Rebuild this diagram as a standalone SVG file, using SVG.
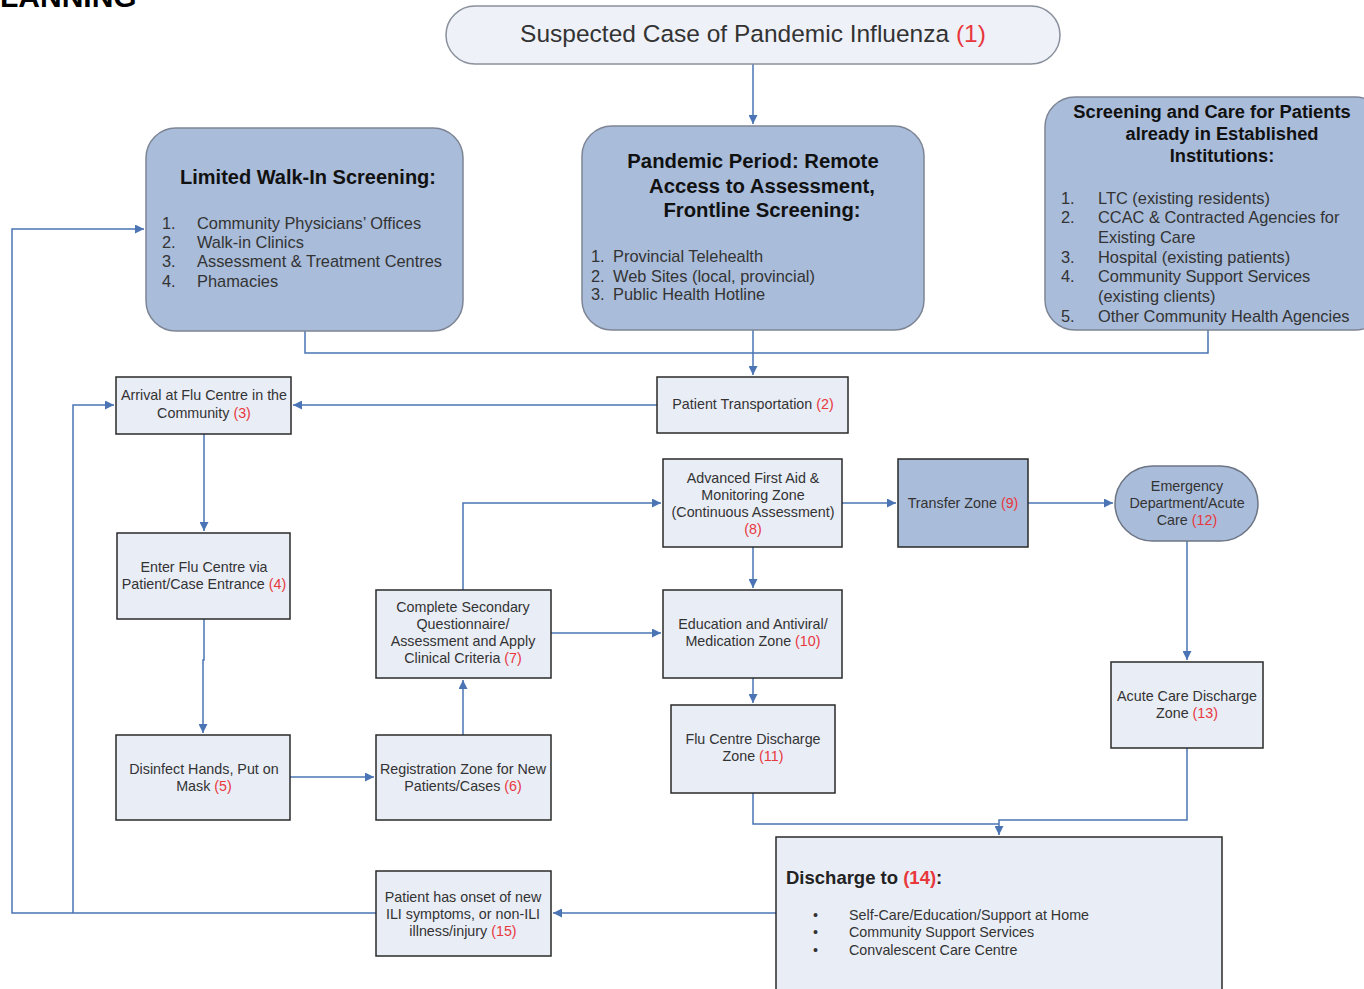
<svg xmlns="http://www.w3.org/2000/svg" width="1364" height="989" viewBox="0 0 1364 989">
<defs>
<marker id="ah" viewBox="0 0 10 10" refX="10" refY="5" markerWidth="10" markerHeight="9" markerUnits="userSpaceOnUse" orient="auto">
<path d="M0,0 L10,5 L0,10 z" fill="#4a74b4"/>
</marker>
<style>
text{font-family:"Liberation Sans",Arial,sans-serif;fill:#222}
.big{fill:#a9bcda;stroke:#7d8594;stroke-width:1.5}
.sm{fill:#e9edf6;stroke:#2a2a2a;stroke-width:1.5}
.dk{fill:#a9bcda;stroke:#2a2a2a;stroke-width:1.5}
.t{font-size:14.3px;text-anchor:middle;fill:#333}
.h{font-size:20px;font-weight:bold;text-anchor:middle;fill:#111}
.l{font-size:16.4px;fill:#333}
.b{font-size:14.3px;fill:#333}
.r{fill:#e8383c}
.c{fill:none;stroke:#4a74b4;stroke-width:1.5}
.ca{fill:none;stroke:#4a74b4;stroke-width:1.5;marker-end:url(#ah)}
</style>
</defs>
<rect width="1364" height="989" fill="#ffffff"/>
<text x="0" y="7" style="font-size:30px;font-weight:900;fill:#000">LANNING</text>

<g id="connectors">
<path class="ca" d="M753,64 V124"/>
<path class="c" d="M305,331 V353 H1208 V330"/>
<path class="ca" d="M753,330 V375"/>
<path class="ca" d="M657,405 H293"/>
<path class="ca" d="M204,434 V531"/>
<path class="ca" d="M204,619 V660 H203 V733"/>
<path class="ca" d="M290,777 H374"/>
<path class="ca" d="M463,735 V680"/>
<path class="ca" d="M463,590 V503 H661"/>
<path class="ca" d="M551,633 H661"/>
<path class="ca" d="M753,547 V588"/>
<path class="ca" d="M842,503 H896"/>
<path class="ca" d="M1028,503 H1113"/>
<path class="ca" d="M1187,541 V660"/>
<path class="ca" d="M753,678 V703"/>
<path class="c" d="M753,793 V824 H999"/>
<path class="ca" d="M1187,748 V820 H999 V835"/>
<path class="ca" d="M776,913 H553"/>
<path class="ca" d="M376,913 H12 V229 H144"/>
<path class="ca" d="M73,913 V405 H114"/>
</g>

<g id="n1">
<rect x="446" y="6" width="614" height="58" rx="29" fill="#eef1f8" stroke="#8a909c" stroke-width="1.5"/>
<text x="753" y="42" style="font-size:24.5px;text-anchor:middle;fill:#333">Suspected Case of Pandemic Influenza <tspan class="r">(1)</tspan></text>
</g>

<g id="walkin">
<rect class="big" x="146" y="128" width="317" height="203" rx="30"/>
<text class="h" x="308" y="184">Limited Walk-In Screening:</text>
<text class="l" x="162" y="229">1.</text><text class="l" x="197" y="229">Community Physicians’ Offices</text>
<text class="l" x="162" y="248">2.</text><text class="l" x="197" y="248">Walk-in Clinics</text>
<text class="l" x="162" y="267">3.</text><text class="l" x="197" y="267">Assessment &amp; Treatment Centres</text>
<text class="l" x="162" y="287">4.</text><text class="l" x="197" y="287">Phamacies</text>
</g>

<g id="pandemic">
<rect class="big" x="582" y="126" width="342" height="204" rx="30"/>
<text class="h" x="753" y="168" style="font-size:20.3px">Pandemic Period: Remote</text>
<text class="h" x="762" y="193" style="font-size:20.3px">Access to Assessment,</text>
<text class="h" x="762" y="217" style="font-size:20.3px">Frontline Screening:</text>
<text class="l" x="591" y="262">1.</text><text class="l" x="613" y="262">Provincial Telehealth</text>
<text class="l" x="591" y="282">2.</text><text class="l" x="613" y="282">Web Sites (local, provincial)</text>
<text class="l" x="591" y="300">3.</text><text class="l" x="613" y="300">Public Health Hotline</text>
</g>

<g id="institutions">
<rect class="big" x="1045" y="97" width="340" height="233" rx="30"/>
<text class="h" x="1212" y="118" style="font-size:18.3px">Screening and Care for Patients</text>
<text class="h" x="1222" y="140" style="font-size:18.3px">already in Established</text>
<text class="h" x="1222" y="162" style="font-size:18.3px">Institutions:</text>
<text class="l" x="1061" y="204">1.</text><text class="l" x="1098" y="204">LTC (existing residents)</text>
<text class="l" x="1061" y="223">2.</text><text class="l" x="1098" y="223">CCAC &amp; Contracted Agencies for</text>
<text class="l" x="1098" y="243">Existing Care</text>
<text class="l" x="1061" y="263">3.</text><text class="l" x="1098" y="263">Hospital (existing patients)</text>
<text class="l" x="1061" y="282">4.</text><text class="l" x="1098" y="282">Community Support Services</text>
<text class="l" x="1098" y="302">(existing clients)</text>
<text class="l" x="1061" y="322">5.</text><text class="l" x="1098" y="322">Other Community Health Agencies</text>
</g>

<g id="n2">
<rect class="sm" x="657" y="377" width="191" height="56"/>
<text class="t" x="753" y="409">Patient Transportation <tspan class="r">(2)</tspan></text>
</g>

<g id="n3">
<rect class="sm" x="116" y="377" width="175" height="57"/>
<text class="t" x="204" y="400">Arrival at Flu Centre in the</text>
<text class="t" x="204" y="418">Community <tspan class="r">(3)</tspan></text>
</g>

<g id="n4">
<rect class="sm" x="117" y="533" width="173" height="86"/>
<text class="t" x="204" y="572">Enter Flu Centre via</text>
<text class="t" x="204" y="589">Patient/Case Entrance <tspan class="r">(4)</tspan></text>
</g>

<g id="n5">
<rect class="sm" x="116" y="735" width="174" height="85"/>
<text class="t" x="204" y="774">Disinfect Hands, Put on</text>
<text class="t" x="204" y="791">Mask <tspan class="r">(5)</tspan></text>
</g>

<g id="n6">
<rect class="sm" x="376" y="735" width="175" height="85"/>
<text class="t" x="463" y="774">Registration Zone for New</text>
<text class="t" x="463" y="791">Patients/Cases <tspan class="r">(6)</tspan></text>
</g>

<g id="n7">
<rect class="sm" x="376" y="590" width="175" height="88"/>
<text class="t" x="463" y="612">Complete Secondary</text>
<text class="t" x="463" y="629">Questionnaire/</text>
<text class="t" x="463" y="646">Assessment and Apply</text>
<text class="t" x="463" y="663">Clinical Criteria <tspan class="r">(7)</tspan></text>
</g>

<g id="n8">
<rect class="sm" x="663" y="459" width="179" height="88"/>
<text class="t" x="753" y="483">Advanced First Aid &amp;</text>
<text class="t" x="753" y="500">Monitoring Zone</text>
<text class="t" x="753" y="517">(Continuous Assessment)</text>
<text class="t" x="753" y="534"><tspan class="r">(8)</tspan></text>
</g>

<g id="n9">
<rect class="dk" x="898" y="459" width="130" height="88"/>
<text class="t" x="963" y="508">Transfer Zone <tspan class="r">(9)</tspan></text>
</g>

<g id="n12">
<rect x="1115" y="466" width="143" height="75" rx="37.5" fill="#a9bcda" stroke="#6d7584" stroke-width="1.5"/>
<text class="t" x="1187" y="491">Emergency</text>
<text class="t" x="1187" y="508">Department/Acute</text>
<text class="t" x="1187" y="525">Care <tspan class="r">(12)</tspan></text>
</g>

<g id="n10">
<rect class="sm" x="663" y="590" width="179" height="88"/>
<text class="t" x="753" y="629">Education and Antiviral/</text>
<text class="t" x="753" y="646">Medication Zone <tspan class="r">(10)</tspan></text>
</g>

<g id="n11">
<rect class="sm" x="671" y="705" width="164" height="88"/>
<text class="t" x="753" y="744">Flu Centre Discharge</text>
<text class="t" x="753" y="761">Zone <tspan class="r">(11)</tspan></text>
</g>

<g id="n13">
<rect class="sm" x="1111" y="662" width="152" height="86"/>
<text class="t" x="1187" y="701">Acute Care Discharge</text>
<text class="t" x="1187" y="718">Zone <tspan class="r">(13)</tspan></text>
</g>

<g id="n14">
<rect class="sm" x="776" y="837" width="446" height="160"/>
<text x="786" y="884" style="font-size:18.5px;font-weight:bold;fill:#222">Discharge to <tspan class="r">(14)</tspan>:</text>
<text x="813" y="920" class="b">•</text><text x="849" y="920" class="b">Self-Care/Education/Support at Home</text>
<text x="813" y="937" class="b">•</text><text x="849" y="937" class="b">Community Support Services</text>
<text x="813" y="955" class="b">•</text><text x="849" y="955" class="b">Convalescent Care Centre</text>
</g>

<g id="n15">
<rect class="sm" x="376" y="871" width="175" height="85"/>
<text class="t" x="463" y="902">Patient has onset of new</text>
<text class="t" x="463" y="919">ILI symptoms, or non-ILI</text>
<text class="t" x="463" y="936">illness/injury <tspan class="r">(15)</tspan></text>
</g>
</svg>
